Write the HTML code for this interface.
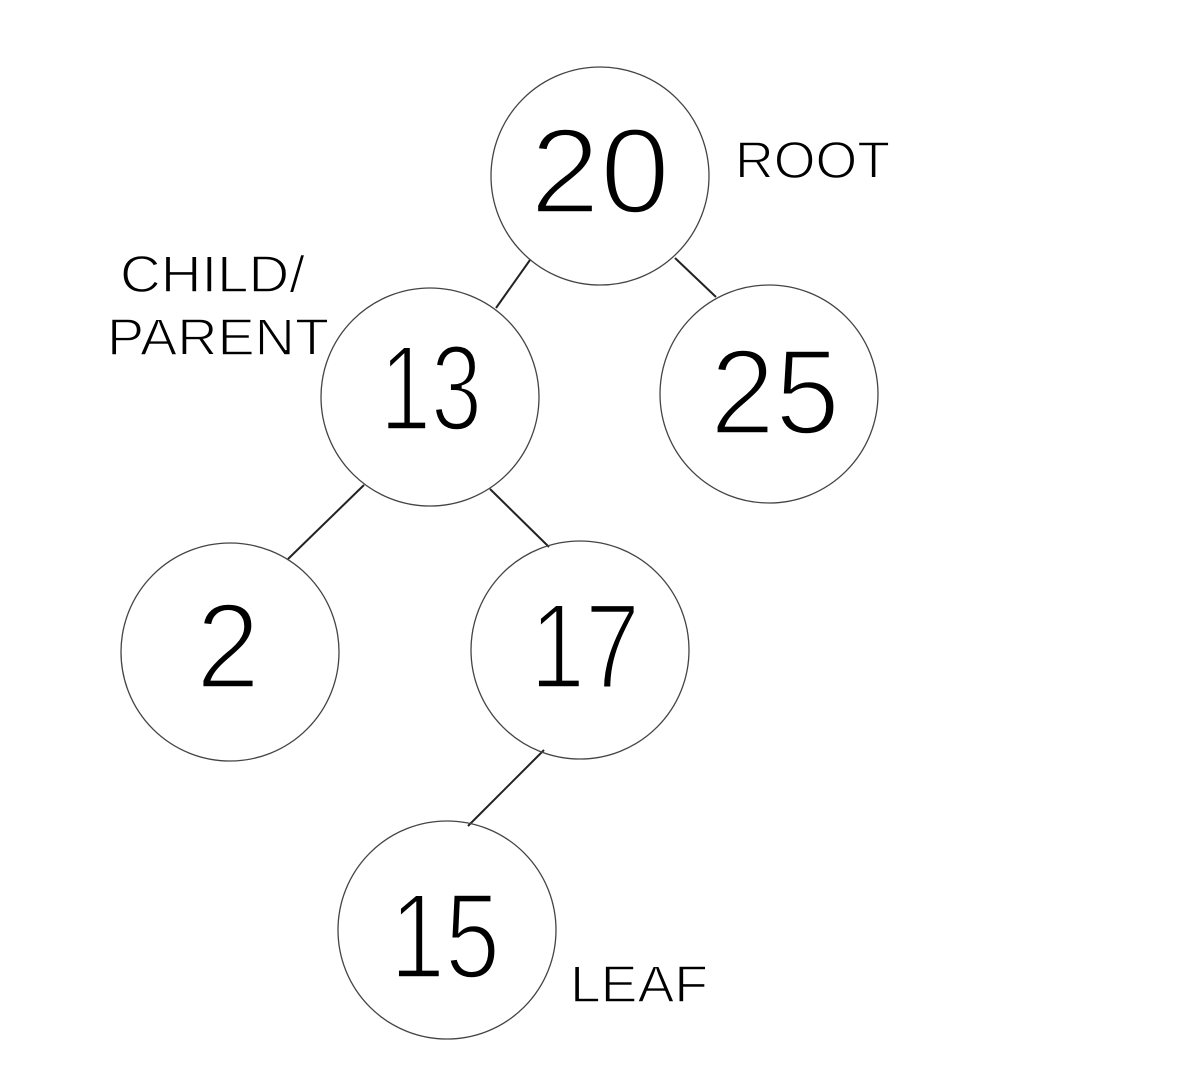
<!DOCTYPE html>
<html><head><meta charset="utf-8"><style>
html,body{margin:0;padding:0;background:#fff;}
svg{display:block;}
text{font-family:"Liberation Sans","DejaVu Sans",sans-serif;fill:#000;stroke:#fff;stroke-width:3.5px;}
.num{font-size:122px;}
.lbl{font-size:52px;stroke-width:1.4px;}
</style></head><body>
<svg width="1200" height="1082" viewBox="0 0 1200 1082">
<g stroke="#222" stroke-width="2" fill="none">
<line x1="530" y1="260" x2="496" y2="308"/>
<line x1="675" y1="258" x2="716" y2="297"/>
<line x1="364" y1="485" x2="288" y2="559"/>
<line x1="490" y1="489" x2="549" y2="547"/>
<line x1="544" y1="750" x2="468" y2="826"/>
</g>
<g stroke="#444" stroke-width="1.3" fill="none">
<circle cx="600" cy="176" r="109"/>
<circle cx="430" cy="397" r="109"/>
<circle cx="769" cy="394" r="109"/>
<circle cx="230" cy="652" r="109"/>
<circle cx="580" cy="650" r="109"/>
<circle cx="447" cy="930" r="109"/>
</g>
<text class="num" x="530" y="213" textLength="140" lengthAdjust="spacingAndGlyphs">20</text>
<text class="num" x="380" y="430" textLength="102" lengthAdjust="spacingAndGlyphs">13</text>
<text class="num" x="710" y="434" textLength="130" lengthAdjust="spacingAndGlyphs">25</text>
<text class="num" x="196" y="688" textLength="64" lengthAdjust="spacingAndGlyphs">2</text>
<text class="num" x="530" y="688" textLength="110" lengthAdjust="spacingAndGlyphs">17</text>
<text class="num" x="390" y="978" textLength="110" lengthAdjust="spacingAndGlyphs">15</text>
<text class="lbl" x="735" y="178" textLength="155" lengthAdjust="spacingAndGlyphs">ROOT</text>
<text class="lbl" x="120" y="292" textLength="185" lengthAdjust="spacingAndGlyphs">CHILD/</text>
<text class="lbl" x="107" y="355" textLength="222" lengthAdjust="spacingAndGlyphs">PARENT</text>
<text class="lbl" x="570" y="1002" textLength="138" lengthAdjust="spacingAndGlyphs">LEAF</text>
</svg>
</body></html>
